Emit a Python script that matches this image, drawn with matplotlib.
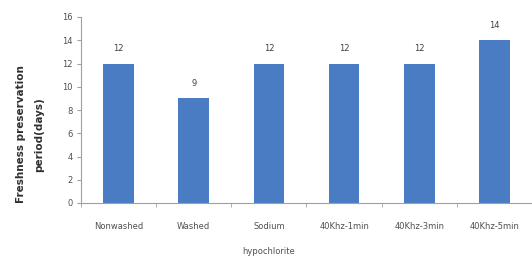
import matplotlib
matplotlib.use("Agg")
import matplotlib.pyplot as plt

categories = ["Nonwashed", "Washed", "Sodium\nhypochlorite", "40Khz-1min", "40Khz-3min", "40Khz-5min"]
values = [12, 9, 12, 12, 12, 14]
yticks = [0, 2, 4, 6, 8, 10, 12, 14, 16]

plt.rcParams['font.family'] = ['DejaVu Sans']
fig = plt.figure(figsize=(5.32, 2.60), dpi=100)
W, H = 532, 260
left, right, top, bottom = 81, 532, 17, 203
ax = fig.add_axes([left / W, (H - bottom) / H, (right - left) / W, (bottom - top) / H])

x = list(range(len(categories)))
bars = ax.bar(x, values, width=0.41, color="#4a7cc4")
for xi, v in zip(x, values):
    ax.text(xi, v + 0.9, str(v), ha="center", va="bottom", fontsize=6, color="#404040")

ax.set_ylim(0, 16)
ax.set_yticks(yticks)
ax.set_yticklabels([str(t) for t in yticks], fontsize=6, color="#505050")
ax.set_xlim(-0.5, 5.5 - 5 / 76)
ax.set_xticks(x)
ax.set_xticklabels(categories, fontsize=6, color="#505050", linespacing=3.2, va="top")
ax.tick_params(axis="x", length=0, pad=14)
ax.set_xticks([i + 0.5 for i in range(-1, 6)], minor=True)
ax.tick_params(axis="x", which="minor", length=3, color="#a0a0a0", direction="out")
ax.tick_params(axis="y", length=3, color="#a0a0a0", pad=3)

for s in ["top", "right"]:
    ax.spines[s].set_visible(False)
ax.spines["left"].set_color("#a0a0a0")
ax.spines["bottom"].set_color("#a0a0a0")
ax.spines["left"].set_linewidth(0.8)
ax.spines["bottom"].set_linewidth(0.8)

ax.set_ylabel("Freshness preservation\nperiod(days)", fontsize=7.5, fontweight="bold",
              color="#303030", linespacing=1.9, va="center", ha="center")
ax.yaxis.set_label_coords(-0.113, 0.37)

fig.savefig("out.png", dpi=100)
